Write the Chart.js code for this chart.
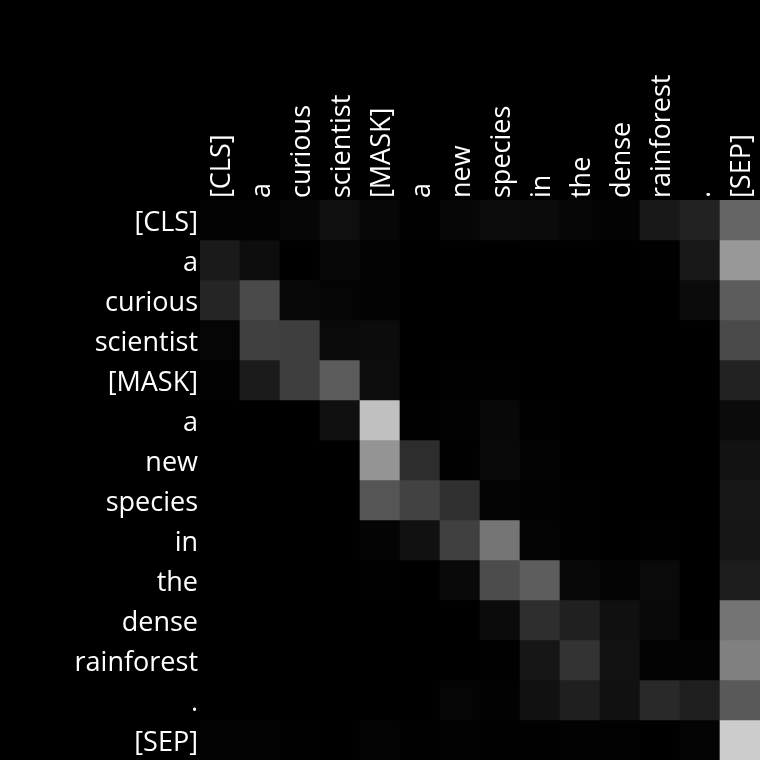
<!DOCTYPE html>
<html>
<head>
<meta charset="utf-8">
<script src="https://cdn.jsdelivr.net/npm/chart.js@4/dist/chart.umd.min.js"></script>
<style>
  html, body { margin: 0; padding: 0; background: #000; }
  canvas { display: block; }
</style>
</head>
<body>
<canvas id="c" width="760" height="760"></canvas>
<script>
// Column (key) tokens and row (query) tokens
const colTokens = ["[CLS]", "a", "curious", "scientist", "[MASK]", "a", "new", "species", "in", "the", "dense", "rainforest", ".", "[SEP]"];
const rowTokens = ["[CLS]", "a", "curious", "scientist", "[MASK]", "a", "new", "species", "in", "the", "dense", "rainforest", ".", "[SEP]"];

// Attention weights, one array per query row
const rowCLS       = [.012, .012, .024, .059, .027, .004, .024, .047, .043, .020, .012, .094, .133, .392];
const rowA1        = [.102, .051, 0, .027, .012, 0, 0, 0, 0, 0, 0, .004, .094, .596];
const rowCurious   = [.145, .290, .031, .020, .012, 0, 0, 0, 0, 0, 0, 0, .043, .361];
const rowScientist = [.020, .251, .243, .039, .047, 0, 0, 0, 0, 0, 0, 0, 0, .290];
const rowMask      = [.008, .106, .243, .361, .051, 0, .004, .004, 0, 0, 0, 0, 0, .133];
const rowA2        = [0, 0, 0, .063, .753, .004, .008, .031, .004, 0, 0, 0, 0, .043];
const rowNew       = [0, 0, 0, 0, .580, .176, .004, .035, .012, 0, 0, 0, 0, .071];
const rowSpecies   = [0, 0, 0, 0, .333, .259, .188, .016, .008, .004, 0, 0, 0, .090];
const rowIn        = [0, 0, 0, 0, .016, .067, .251, .459, .016, .004, 0, .004, 0, .086];
const rowThe       = [0, 0, 0, 0, .004, 0, .035, .298, .365, .031, .016, .039, 0, .114];
const rowDense     = [0, 0, 0, 0, 0, 0, 0, .043, .180, .125, .063, .035, 0, .455];
const rowRainforest= [0, 0, 0, 0, 0, 0, 0, .004, .086, .200, .071, .012, .012, .502];
const rowPeriod    = [0, 0, 0, 0, 0, 0, .020, .008, .067, .122, .067, .161, .122, .349];
const rowSEP       = [.012, .012, .004, 0, .016, .004, .008, .004, .004, .008, .008, 0, .016, .800];

const attention = [rowCLS, rowA1, rowCurious, rowScientist, rowMask, rowA2, rowNew,
                   rowSpecies, rowIn, rowThe, rowDense, rowRainforest, rowPeriod, rowSEP];

function gray(v) {
  const g = Math.max(0, Math.min(255, Math.round(v * 255)));
  return `rgb(${g},${g},${g})`;
}

const datasets = attention.map((row, i) => ({
  label: rowTokens[i],
  data: row.map(() => [i, i + 1]),
  backgroundColor: row.map(gray),
  borderWidth: 0,
  barPercentage: 1,
  categoryPercentage: 1
}));

const tickFont = { family: "'Open Sans', 'Noto Sans', sans-serif", size: 27 };

new Chart(document.getElementById('c'), {
  type: 'bar',
  data: { labels: colTokens, datasets },
  options: {
    responsive: false,
    animation: false,
    layout: { padding: 0 },
    plugins: { legend: { display: false }, tooltip: { enabled: false } },
    scales: {
      x: {
        position: 'top',
        stacked: true,
        offset: true,
        grid: { display: false, drawTicks: false },
        border: { display: false },
        ticks: {
          color: '#ffffff',
          font: tickFont,
          minRotation: 90,
          maxRotation: 90,
          autoSkip: false,
          padding: 2,
          labelOffset: 35
        },
        afterFit: (s) => { s.height = 200; s.paddingLeft = 0; s.paddingRight = 0; }
      },
      y: {
        type: 'linear',
        stacked: false,
        min: 0,
        max: rowTokens.length,
        reverse: true,
        grid: { display: false, drawTicks: false },
        border: { display: false },
        afterBuildTicks: (s) => { s.ticks = rowTokens.map((_, i) => ({ value: i + 0.5 })); },
        ticks: {
          color: '#ffffff',
          font: tickFont,
          padding: 2,
          labelOffset: 3,
          autoSkip: false,
          callback: (v) => rowTokens[Math.floor(v)]
        },
        afterFit: (s) => { s.width = 200; s.paddingTop = 0; s.paddingBottom = 0; }
      }
    }
  }
});
</script>
</body>
</html>
